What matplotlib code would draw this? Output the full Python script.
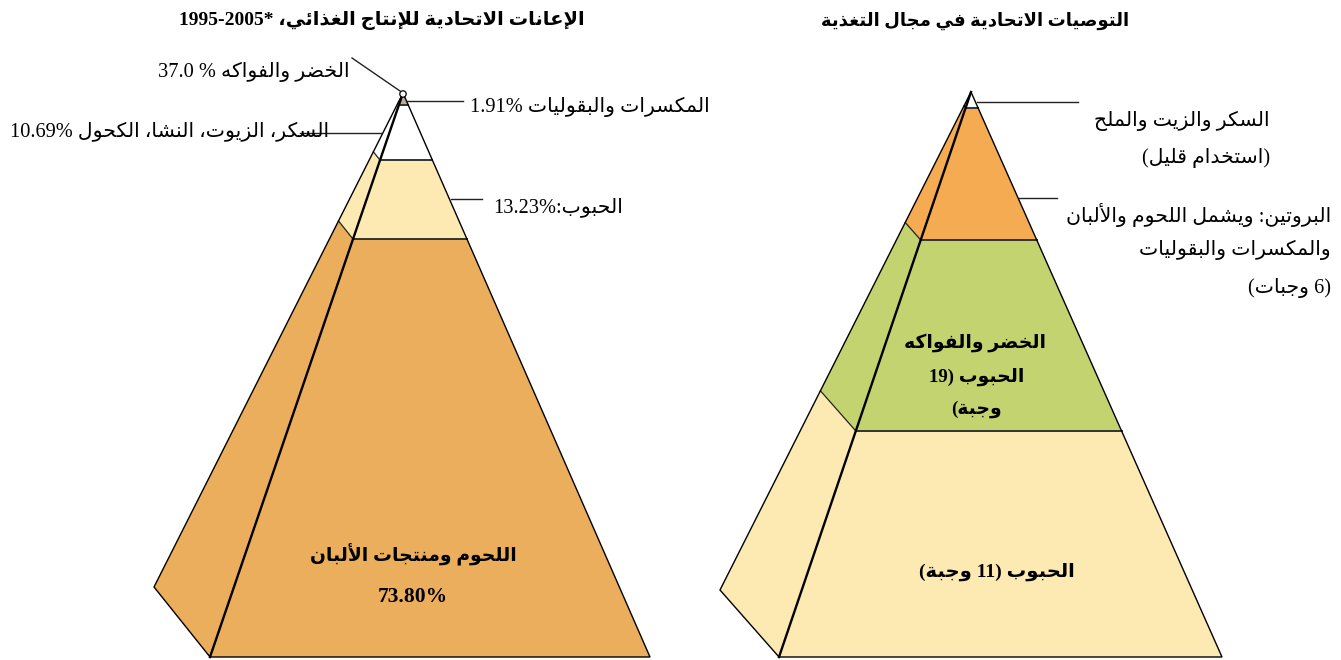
import re
import matplotlib
matplotlib.use("Agg")
import matplotlib.pyplot as plt
from matplotlib.patches import Polygon, Circle

# ---------------- data ----------------
left_title = "الإعانات الاتحادية للإنتاج الغذائي، *1995-2005"
right_title = "التوصيات الاتحادية في مجال التغذية"

left_layers = ["المكسرات والبقوليات", "السكر، الزيوت، النشا، الكحول", "الحبوب", "اللحوم ومنتجات الألبان"]
left_values = [1.91, 10.69, 13.23, 73.80]
left_colors = ["#B9AD95", "#FFFFFF", "#FDEAB3", "#EBAE5C"]
left_extra_name = "الخضر والفواكه"
left_extra_value = 37.0

right_layers = ["السكر والزيت والملح", "البروتين", "الخضر والفواكه", "الحبوب"]
right_servings = [None, 6, 19, 11]
right_colors = ["#FFFFFF", "#F4AB52", "#C3D36F", "#FDEAB3"]

# ---------------- layout (pixels) ----------------
W, H = 1341, 660
LEFT_GEOM = dict(apex=(403, 93), fbl=(210, 657), fbr=(650, 657), so=(154, 587))
RIGHT_GEOM = dict(apex=(971, 92), fbl=(779, 657), fbr=(1222, 657), so=(720, 590))
LEFT_BOUNDS = [0.0, 0.021, 0.119, 0.259, 1.0]
RIGHT_BOUNDS = [0.0, 0.028, 0.262, 0.600, 1.0]

# ---------------- minimal Arabic shaping ----------------
_BASE = [("\u0621", 0xFE80, 1), ("\u0622", 0xFE81, 2), ("\u0623", 0xFE83, 2), ("\u0624", 0xFE85, 2),
         ("\u0625", 0xFE87, 2), ("\u0626", 0xFE89, 4), ("\u0627", 0xFE8D, 2), ("\u0628", 0xFE8F, 4),
         ("\u0629", 0xFE93, 2), ("\u062A", 0xFE95, 4), ("\u062B", 0xFE99, 4), ("\u062C", 0xFE9D, 4),
         ("\u062D", 0xFEA1, 4), ("\u062E", 0xFEA5, 4), ("\u062F", 0xFEA9, 2), ("\u0630", 0xFEAB, 2),
         ("\u0631", 0xFEAD, 2), ("\u0632", 0xFEAF, 2), ("\u0633", 0xFEB1, 4), ("\u0634", 0xFEB5, 4),
         ("\u0635", 0xFEB9, 4), ("\u0636", 0xFEBD, 4), ("\u0637", 0xFEC1, 4), ("\u0638", 0xFEC5, 4),
         ("\u0639", 0xFEC9, 4), ("\u063A", 0xFECD, 4), ("\u0641", 0xFED1, 4), ("\u0642", 0xFED5, 4),
         ("\u0643", 0xFED9, 4), ("\u0644", 0xFEDD, 4), ("\u0645", 0xFEE1, 4), ("\u0646", 0xFEE5, 4),
         ("\u0647", 0xFEE9, 4), ("\u0648", 0xFEED, 2), ("\u0649", 0xFEEF, 2), ("\u064A", 0xFEF1, 4)]
_FORMS = {c: tuple(chr(s + k) for k in range(n)) for c, s, n in _BASE}
_LAMALEF = {"\u0622": ("\uFEF5", "\uFEF6"), "\u0623": ("\uFEF7", "\uFEF8"),
            "\u0625": ("\uFEF9", "\uFEFA"), "\u0627": ("\uFEFB", "\uFEFC")}


def shape(s):
    out, i, n, prev = [], 0, len(s), False
    while i < n:
        c = s[i]
        if c not in _FORMS:
            out.append(c); prev = False; i += 1; continue
        if c == "\u0644" and i + 1 < n and s[i + 1] in _LAMALEF:
            iso, fin = _LAMALEF[s[i + 1]]
            out.append(fin if prev else iso); prev = False; i += 2; continue
        f = _FORMS[c]
        nxt = s[i + 1] if i + 1 < n else ""
        cn = len(f) == 4 and nxt in _FORMS and nxt != "\u0621"
        if prev and cn:
            g = f[3]
        elif prev:
            g = f[1] if len(f) > 1 else f[0]
        elif cn:
            g = f[2]
        else:
            g = f[0]
        out.append(g); prev = cn; i += 1
    return "".join(out)


def rtl(s):
    toks = re.findall(r"[0-9A-Za-z][0-9A-Za-z.%\-]*|.", shape(s), re.S)
    mirror = {"(": ")", ")": "("}
    return "".join(mirror.get(t, t) for t in reversed(toks))


FAM = ["Liberation Serif", "DejaVu Sans"]

# ---------------- figure ----------------
fig = plt.figure(figsize=(W / 100, H / 100), dpi=100)
ax = fig.add_axes([0, 0, 1, 1])
ax.set_xlim(0, W)
ax.set_ylim(H, 0)
ax.axis("off")


def pt(a, b, t):
    return (a[0] + t * (b[0] - a[0]), a[1] + t * (b[1] - a[1]))


def pyramid(g, bounds, colors):
    A, L, R, S = g["apex"], g["fbl"], g["fbr"], g["so"]
    for t0, t1, col in zip(bounds[:-1], bounds[1:], colors):
        front = [pt(A, L, t0), pt(A, R, t0), pt(A, R, t1), pt(A, L, t1)]
        side = [pt(A, S, t0), pt(A, L, t0), pt(A, L, t1), pt(A, S, t1)]
        ax.add_patch(Polygon(front, closed=True, facecolor=col, edgecolor="none"))
        ax.add_patch(Polygon(side, closed=True, facecolor=col, edgecolor="none"))
    # layer boundaries
    for t in bounds[1:-1]:
        p1, p2, p3 = pt(A, S, t), pt(A, L, t), pt(A, R, t)
        ax.plot([p1[0], p2[0]], [p1[1], p2[1]], color="#222222", lw=0.9)
        ax.plot([p2[0], p3[0]], [p2[1], p3[1]], color="#333333", lw=1.4)
    # outline
    ax.plot([A[0], S[0], L[0], R[0], A[0]], [A[1], S[1], L[1], R[1], A[1]],
            color="black", lw=1.0, solid_joinstyle="miter")
    ax.plot([A[0], L[0]], [A[1], L[1]], color="black", lw=1.7)


pyramid(LEFT_GEOM, LEFT_BOUNDS, left_colors)
pyramid(RIGHT_GEOM, RIGHT_BOUNDS, right_colors)

# apex marker on left pyramid
ax.add_patch(Circle((403, 94), 3.2, facecolor="white", edgecolor="black", lw=0.9, zorder=5))

# titles
ax.text(382, 21, rtl(left_title), ha="center", va="center", fontsize=14,
        fontweight="bold", family=FAM)
ax.text(975, 21, rtl(right_title), ha="center", va="center", fontsize=13,
        fontweight="bold", family=FAM)

LC = "#222222"
FS = 14.7
BFS = 13.5
# left labels
ax.plot([352, 400], [58, 91], color=LC, lw=1.0)
ax.text(350, 72, rtl(f"{left_extra_name} % {left_extra_value:.1f}"), ha="right", va="center",
        fontsize=FS, family=FAM)
ax.plot([407, 463], [101, 101], color=LC, lw=1.0)
ax.text(470, 107, rtl(f"{left_layers[0]} {left_values[0]:.2f}%"), ha="left", va="center",
        fontsize=FS, family=FAM)
ax.text(10, 131, rtl(f"{left_layers[1]} {left_values[1]:.2f}%"), ha="left", va="center",
        fontsize=FS, family=FAM)
ax.plot([300, 381], [133, 133], color=LC, lw=1.0)
ax.plot([451, 482], [199, 199], color=LC, lw=1.0)
ax.text(493, 207, rtl(f"{left_layers[2]}:{left_values[2]:.2f}%"), ha="left", va="center",
        fontsize=FS, family=FAM)
ax.text(413, 555, rtl(left_layers[3]), ha="center", va="center", fontsize=BFS,
        fontweight="bold", family=FAM)
ax.text(413, 597, f"{left_values[3]:.2f}%", ha="center", va="center", fontsize=15.5,
        fontweight="bold", family=FAM)

# right labels
ax.plot([977, 1078], [102, 102], color=LC, lw=1.0)
ax.text(1270, 121, rtl(right_layers[0]), ha="right", va="center", fontsize=FS, family=FAM)
ax.text(1270, 158, rtl("(استخدام قليل)"), ha="right", va="center", fontsize=FS, family=FAM)
ax.plot([1019, 1057], [198, 198], color=LC, lw=1.0)
ax.text(1331, 215, rtl(f"{right_layers[1]}: ويشمل اللحوم والألبان"), ha="right", va="center",
        fontsize=FS, family=FAM)
ax.text(1331, 250, rtl("والمكسرات والبقوليات"), ha="right", va="center", fontsize=FS, family=FAM)
ax.text(1331, 288, rtl(f"({right_servings[1]} وجبات)"), ha="right", va="center",
        fontsize=FS, family=FAM)
ax.text(975, 343, rtl(right_layers[2]), ha="center", va="center", fontsize=BFS,
        fontweight="bold", family=FAM)
ax.text(977, 377, rtl(f"الحبوب ({right_servings[2]}"), ha="center", va="center", fontsize=BFS,
        fontweight="bold", family=FAM)
ax.text(977, 409, rtl("وجبة)"), ha="center", va="center", fontsize=BFS,
        fontweight="bold", family=FAM)
ax.text(997, 572, rtl(f"{right_layers[3]} ({right_servings[3]} وجبة)"), ha="center", va="center",
        fontsize=14, fontweight="bold", family=FAM)

fig.savefig("out.png", dpi=100)
